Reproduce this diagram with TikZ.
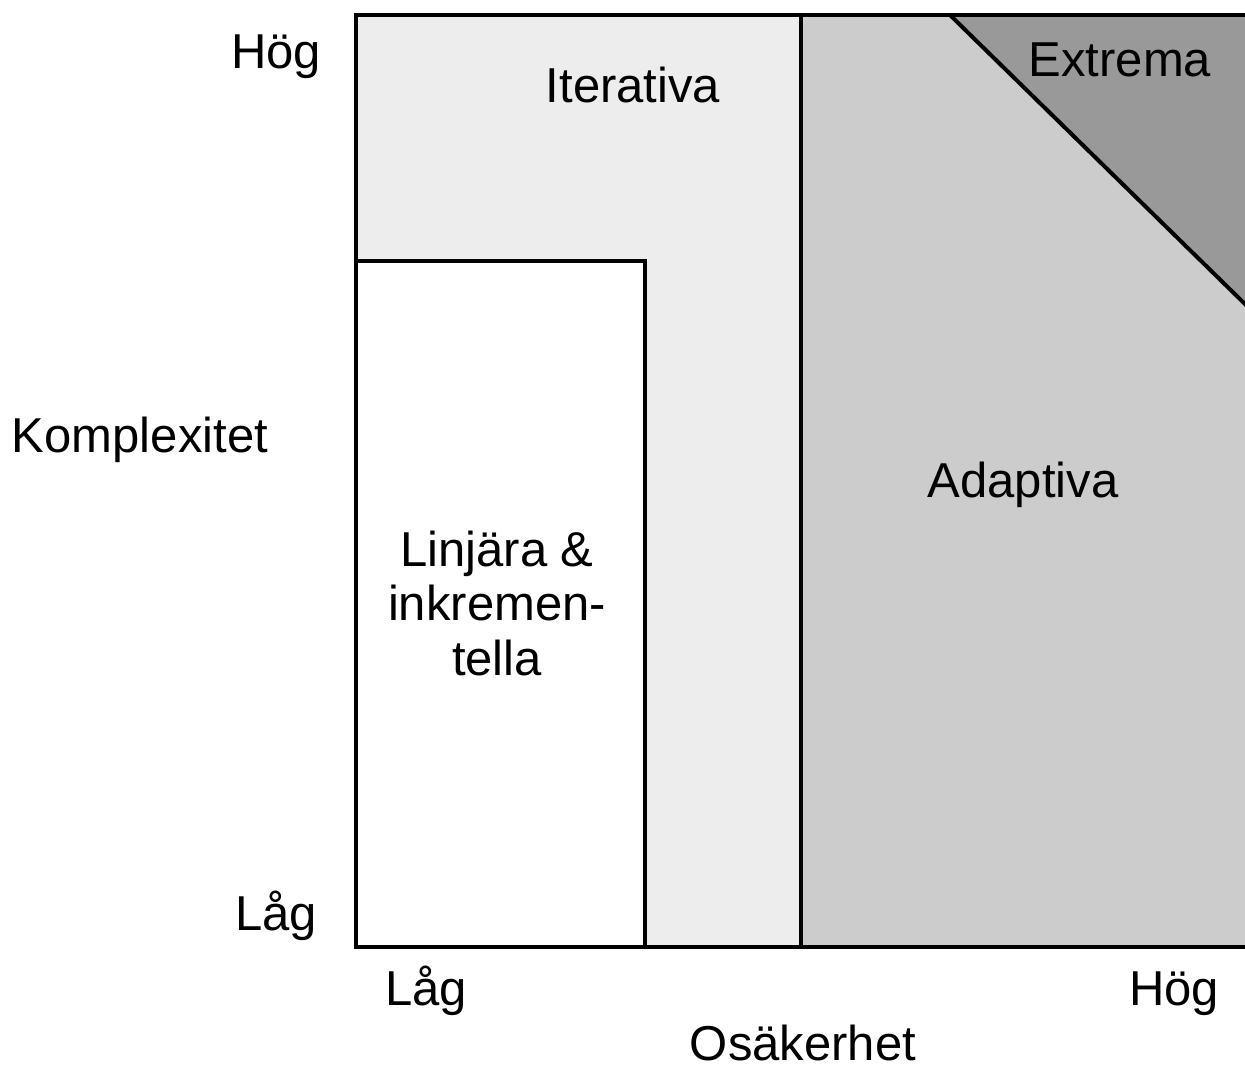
\documentclass[tikz,border=0pt]{standalone}
\usepackage{fontspec}
\setmainfont{Liberation Sans}
\usetikzlibrary{positioning}

\definecolor{itgray}{HTML}{EDEDED}
\definecolor{adgray}{HTML}{CCCCCC}
\definecolor{exgray}{HTML}{999999}

\begin{document}
\begin{tikzpicture}[x=1pt,y=-1pt,
    lbl/.style={anchor=base,inner sep=0pt,font=\fontsize{49}{54.5}\selectfont},
    edge/.style={line width=4pt}]
    \useasboundingbox (0,0) rectangle (1245,1068);

    % Iterative region fills the whole frame first
    \fill[itgray] (356,15) rectangle (1247,947);
    % Adaptive region on the right
    \fill[adgray] (801,15) rectangle (1247,947);
    % Extreme corner
    \fill[exgray] (950,15) -- (1247,15) -- (1247,306) -- cycle;
    \draw[edge] (950,15) -- (1247,306);
    % Linear & incremental box
    \draw[edge,fill=white] (356,261) rectangle (645,947);
    % Frame and divider
    \draw[edge] (801,15) -- (801,947);
    \draw[edge] (356,15) rectangle (1247,947);

    % Region names
    \node[lbl] (iterativa) at (633,102) {Iterativa};
    \node[lbl] (extrema) at (1120,76) {Extrema};
    \node[lbl] (adaptiva) at (1023,497) {Adaptiva};
    \node[lbl,align=center] (linjara) at (497,675) {Linjära \&\\inkremen-\\tella};

    % Axes
    \node[lbl] (kompl) at (140,452) {Komplexitet};
    \node[lbl] (kHog) at (276,68) {Hög};
    \node[lbl] (kLag) at (276,930) {Låg};
    \node[lbl] (oLag) at (426,1005) {Låg};
    \node[lbl] (oHog) at (1174,1005) {Hög};
    \node[lbl,text depth=0pt] (osak) at (803,1060) {Osäkerhet};
\end{tikzpicture}
\end{document}
